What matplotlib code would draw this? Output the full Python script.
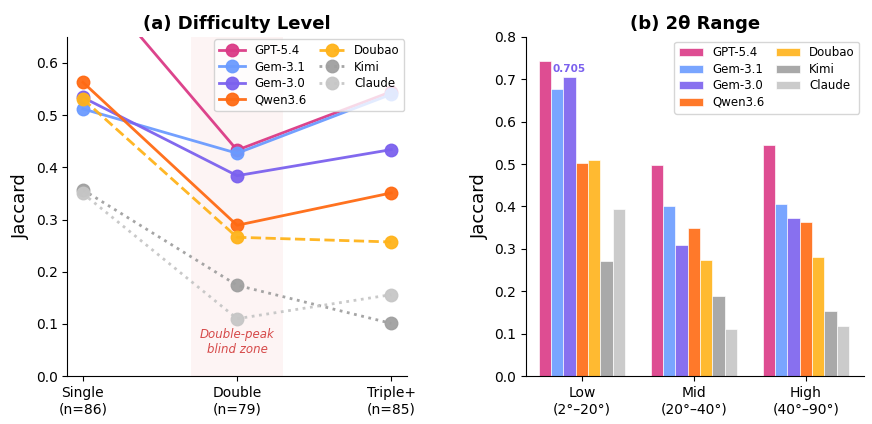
import numpy as np
import matplotlib.pyplot as plt

models = ['GPT-5.4', 'Gem-3.1', 'Gem-3.0', 'Qwen3.6', 'Doubao', 'Kimi', 'Claude']
colors = ['#db3a86', '#6b9bff', '#7b61ee', '#ff6a13', '#ffb31a', '#a0a0a0', '#c6c6c6']
styles = ['-', '-', '-', '-', '--', ':', ':']

difficulty = ['Single\n(n=86)', 'Double\n(n=79)', 'Triple+\n(n=85)']
diff_vals = {
    'GPT-5.4': [0.780, 0.433, 0.545],
    'Gem-3.1': [0.512, 0.427, 0.540],
    'Gem-3.0': [0.534, 0.384, 0.434],
    'Qwen3.6': [0.563, 0.289, 0.351],
    'Doubao':  [0.531, 0.266, 0.257],
    'Kimi':    [0.357, 0.174, 0.101],
    'Claude':  [0.350, 0.110, 0.156],
}

ranges = ['Low\n(2°–20°)', 'Mid\n(20°–40°)', 'High\n(40°–90°)']
range_vals = {
    'GPT-5.4': [0.744, 0.497, 0.545],
    'Gem-3.1': [0.677, 0.401, 0.406],
    'Gem-3.0': [0.705, 0.308, 0.374],
    'Qwen3.6': [0.503, 0.350, 0.363],
    'Doubao':  [0.510, 0.274, 0.281],
    'Kimi':    [0.271, 0.189, 0.154],
    'Claude':  [0.394, 0.112, 0.118],
}

fig = plt.figure(figsize=(8.72, 4.24), dpi=100)
ax1 = fig.add_axes([0.0774, 0.113, 0.389, 0.800])
ax2 = fig.add_axes([0.603, 0.113, 0.388, 0.800])

# (a) difficulty level
x = np.arange(len(difficulty))
ax1.axvspan(0.7, 1.3, color='#fdeaea', alpha=0.5, zorder=0, lw=0)
ax1.text(1, 0.065, 'Double-peak\nblind zone', ha='center', va='center',
         fontsize=8.5, style='italic', color='#d64a4a')
for m, c, ls in zip(models, colors, styles):
    ax1.plot(x, diff_vals[m], ls, color=c, lw=2, marker='o', markersize=9,
             label=m, alpha=0.95)
ax1.set_xlim(-0.1, 2.1)
ax1.set_ylim(0, 0.65)
ax1.set_xticks(x)
ax1.set_xticklabels(difficulty, fontsize=10)
ax1.tick_params(axis='y', labelsize=10)
ax1.set_ylabel('Jaccard', fontsize=13)
ax1.set_title('(a) Difficulty Level', fontsize=13, fontweight='bold')
ax1.legend(ncol=2, loc='upper right', fontsize=8.5, columnspacing=1.0,
           handlelength=2.2, labelspacing=0.3, borderaxespad=0.2)

# (b) 2theta range
xg = np.arange(len(ranges))
w = 0.11
for i, (m, c) in enumerate(zip(models, colors)):
    ax2.bar(xg + (i - 3) * w, range_vals[m], w, color=c, alpha=0.9,
            edgecolor='white', linewidth=0.5, label=m)
ax2.text(xg[0] + (2 - 3) * w, range_vals['Gem-3.0'][0] + 0.008, '0.705',
         ha='center', va='bottom', fontsize=7.5, fontweight='bold', color=colors[2])
ax2.set_xlim(-0.5, 2.52)
ax2.set_ylim(0, 0.8)
ax2.set_xticks(xg)
ax2.set_xticklabels(ranges, fontsize=10)
ax2.tick_params(axis='y', labelsize=10)
ax2.set_ylabel('Jaccard', fontsize=13)
ax2.set_title('(b) 2θ Range', fontsize=13, fontweight='bold')
ax2.legend(ncol=2, loc='upper right', fontsize=8.5, columnspacing=1.0,
           labelspacing=0.3, borderaxespad=0.4)

for ax in (ax1, ax2):
    ax.spines['top'].set_visible(False)
    ax.spines['right'].set_visible(False)

fig.savefig('out.png', dpi=100)
